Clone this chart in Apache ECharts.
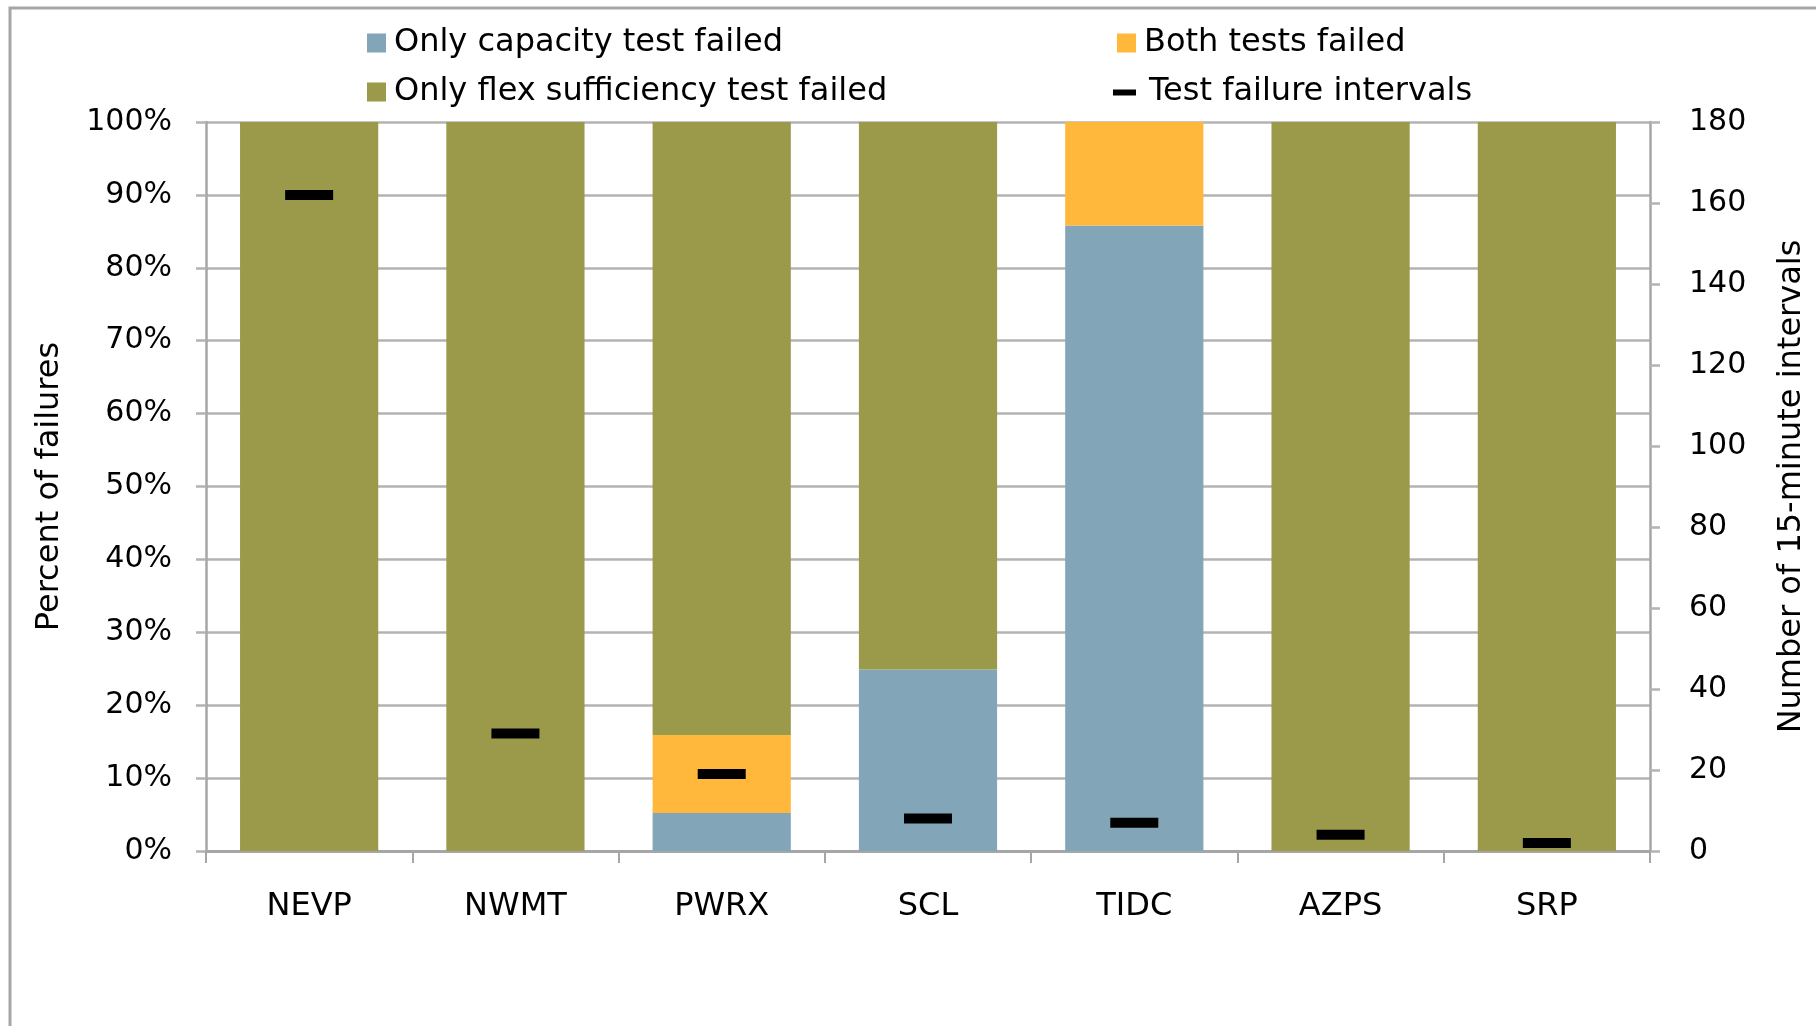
<!DOCTYPE html>
<html>
<head>
<meta charset="utf-8">
<script src="https://cdn.jsdelivr.net/npm/echarts@6/dist/echarts.min.js"></script>
<style>
  html, body { margin: 0; padding: 0; background: #fff; }
  #chart { width: 1816px; height: 1026px; }
</style>
</head>
<body>
<div id="chart"></div>
<script>
const categories = ['NEVP', 'NWMT', 'PWRX', 'SCL', 'TIDC', 'AZPS', 'SRP']
// percent of failures (stacked, sums to 100)
const onlyCapacity = [0, 0, 5.2, 24.9, 85.8, 0, 0]
const bothFailed = [0, 0, 10.7, 0, 14.2, 0, 0]
const onlyFlex = [100, 100, 84.1, 75.1, 0, 100, 100]
// number of 15-minute intervals (right axis)
const failureIntervals = [162, 29, 19, 8, 7, 4, 2]
const pctTicks = { min: 0, max: 100, interval: 10 }
const countTicks = { min: 0, max: 180, interval: 20 }

const font = 'DejaVu Sans'
const gridGray = '#B3B3B3'
const dashIcon = 'path://M0,0 M0,7 L23,7 L23,13 L0,13 Z M23,19'

const chart = echarts.init(document.getElementById('chart'))

function legendAt(name, left, top, icon) {
  return {
    data: [{ name: name, icon: icon || 'rect' }],
    left: left,
    top: top,
    itemWidth: icon ? 23 : 19,
    itemHeight: 19,
    selectedMode: false,
    textStyle: { fontFamily: font, fontSize: 32, color: '#000', padding: [0, 0, 0, icon ? 8 : 3] },
  }
}

const option = {
  backgroundColor: '#fff',
  animation: false,
  graphic: [
    {
      type: 'rect',
      shape: { x: 10, y: 8, width: 1900, height: 1200 },
      style: { fill: 'none', stroke: '#A6A6A6', lineWidth: 3 },
      silent: true,
    },
  ],
  legend: [
    legendAt('Only capacity test failed', 362, 22),
    legendAt('Only flex sufficiency test failed', 362, 71),
    legendAt('Both tests failed', 1112, 22),
    legendAt('Test failure intervals', 1108, 71, dashIcon),
  ],
  grid: { left: 206, right: 165, top: 122, bottom: 175 },
  xAxis: {
    type: 'category',
    data: categories,
    axisLine: { lineStyle: { color: '#A6A6A6', width: 3 } },
    axisTick: { show: true, length: 12, lineStyle: { color: '#A6A6A6', width: 2 } },
    axisLabel: { fontFamily: font, fontSize: 32, color: '#000', margin: 40 },
  },
  yAxis: [
    {
      type: 'value',
      min: pctTicks.min,
      max: pctTicks.max,
      interval: pctTicks.interval,
      name: 'Percent of failures',
      nameLocation: 'middle',
      nameGap: 140,
      nameTextStyle: { fontFamily: font, fontSize: 32, color: '#000' },
      axisLine: { show: true, lineStyle: { color: '#A6A6A6', width: 2.5 } },
      axisTick: { show: true, length: 10, lineStyle: { color: gridGray, width: 2.5 } },
      splitLine: { lineStyle: { color: gridGray, width: 2.5 } },
      axisLabel: { fontFamily: font, fontSize: 30, color: '#000', margin: 34, formatter: '{value}%' },
    },
    {
      type: 'value',
      position: 'right',
      min: countTicks.min,
      max: countTicks.max,
      interval: countTicks.interval,
      name: 'Number of 15-minute intervals',
      nameLocation: 'middle',
      nameGap: 126,
      nameTextStyle: { fontFamily: font, fontSize: 32, color: '#000' },
      axisLine: { show: true, lineStyle: { color: '#A6A6A6', width: 2.5 } },
      axisTick: { show: true, length: 10, lineStyle: { color: gridGray, width: 2.5 } },
      splitLine: { show: false },
      axisLabel: { fontFamily: font, fontSize: 30, color: '#000', margin: 39 },
    },
  ],
  series: [
    {
      name: 'Only capacity test failed',
      type: 'bar',
      stack: 'pct',
      barCategoryGap: '33%',
      itemStyle: { color: '#82A5B8' },
      data: onlyCapacity,
    },
    {
      name: 'Both tests failed',
      type: 'bar',
      stack: 'pct',
      itemStyle: { color: '#FFB83B' },
      data: bothFailed,
    },
    {
      name: 'Only flex sufficiency test failed',
      type: 'bar',
      stack: 'pct',
      itemStyle: { color: '#9A9A4A' },
      data: onlyFlex,
    },
    {
      name: 'Test failure intervals',
      type: 'scatter',
      yAxisIndex: 1,
      symbol: 'rect',
      symbolSize: [48, 10],
      itemStyle: { color: '#000', opacity: 1 },
      z: 5,
      data: failureIntervals,
    },
  ],
}

chart.setOption(option)
</script>
</body>
</html>
